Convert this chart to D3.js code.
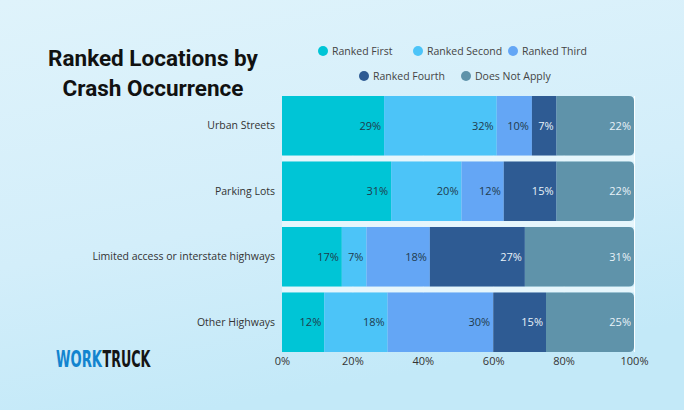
<!DOCTYPE html>
<html>
<head>
<meta charset="utf-8">
<script src="https://cdn.jsdelivr.net/npm/d3@7"></script>
<style>
  body { margin: 0; }
  svg { display: block; }
  text { font-family: "Open Sans", sans-serif; }
</style>
</head>
<body>
<div id="chart"></div>
<script>
const categories = ["Urban Streets", "Parking Lots", "Limited access or interstate highways", "Other Highways"];
const seriesNames = ["Ranked First", "Ranked Second", "Ranked Third", "Ranked Fourth", "Does Not Apply"];
const rankedFirst = [29, 31, 17, 12];
const rankedSecond = [32, 20, 7, 18];
const rankedThird = [10, 12, 18, 30];
const rankedFourth = [7, 15, 27, 15];
const doesNotApply = [22, 22, 31, 25];
const xTicks = [0, 20, 40, 60, 80, 100];

const colors = ["#00c5d6", "#4cc4f8", "#64a6f5", "#2e5b93", "#5f93aa"];
const labelColors = ["#1f3b4d", "#1f3b4d", "#1f3b4d", "#e8f2f8", "#e8f2f8"];

const width = 684, height = 410;

const svg = d3.select("#chart")
  .append("svg")
  .attr("width", width)
  .attr("height", height);

// background
const defs = svg.append("defs");
const grad = defs.append("linearGradient")
  .attr("id", "bg")
  .attr("x1", 0).attr("y1", 0).attr("x2", 0.3).attr("y2", 1);
grad.append("stop").attr("offset", "0%").attr("stop-color", "#dff3fb");
grad.append("stop").attr("offset", "60%").attr("stop-color", "#d3eefa");
grad.append("stop").attr("offset", "100%").attr("stop-color", "#c3e9f8");
svg.append("rect").attr("width", width).attr("height", height).attr("fill", "url(#bg)");

// title
["Ranked Locations by", "Crash Occurrence"].forEach((t, i) => {
  svg.append("text")
    .attr("x", 153).attr("y", 66 + i * 30)
    .attr("text-anchor", "middle")
    .style("font-family", "Roboto, sans-serif")
    .style("font-weight", "bold")
    .style("font-size", "22.5px")
    .attr("fill", "#111")
    .text(t);
});

// stacked data
const table = categories.map((c, i) => ({
  cat: c,
  "Ranked First": rankedFirst[i],
  "Ranked Second": rankedSecond[i],
  "Ranked Third": rankedThird[i],
  "Ranked Fourth": rankedFourth[i],
  "Does Not Apply": doesNotApply[i]
}));
const stacked = d3.stack().keys(seriesNames)(table);

const x = d3.scaleLinear().domain([0, 100]).range([282, 634]);
const y = d3.scaleBand().domain(categories).range([96, 352]).paddingInner(0.09);

// grid
svg.append("g")
  .attr("transform", `translate(0,${y.range()[1]})`)
  .call(d3.axisBottom(x).tickValues(xTicks).tickSize(-(y.range()[1] - y.range()[0])).tickFormat(""))
  .call(g => g.select(".domain").remove())
  .call(g => g.selectAll("line").attr("stroke", "#ffffff").attr("stroke-width", 1).attr("opacity", 0.9));

// gaps between bars (white strips)
svg.append("g")
  .selectAll("rect")
  .data(categories.slice(1))
  .join("rect")
  .attr("x", x(0))
  .attr("y", d => y(d) - y.step() * y.paddingInner())
  .attr("width", x(100) - x(0))
  .attr("height", y.step() * y.paddingInner())
  .attr("fill", "#e6f6fc");

// bars
const r = 5;
function segPath(x0, x1, y0, h, round) {
  if (!round) return `M${x0},${y0}H${x1}V${y0 + h}H${x0}Z`;
  return `M${x0},${y0}H${x1 - r}Q${x1},${y0} ${x1},${y0 + r}V${y0 + h - r}Q${x1},${y0 + h} ${x1 - r},${y0 + h}H${x0}Z`;
}

stacked.forEach((s, si) => {
  const g = svg.append("g");
  g.selectAll("path")
    .data(s)
    .join("path")
    .attr("d", d => segPath(x(d[0]), x(d[1]), y(d.data.cat), y.bandwidth(), si === seriesNames.length - 1))
    .attr("fill", colors[si]);
  g.selectAll("text")
    .data(s)
    .join("text")
    .attr("x", d => x(d[1]) - 3)
    .attr("y", d => y(d.data.cat) + y.bandwidth() / 2)
    .attr("dy", "0.35em")
    .attr("text-anchor", "end")
    .style("font-size", "11px")
    .attr("fill", labelColors[si])
    .text(d => (d[1] - d[0]) + "%");
});

// category axis
svg.append("g")
  .attr("transform", `translate(${x(0)},0)`)
  .call(d3.axisLeft(y).tickSize(0).tickPadding(7))
  .call(g => g.select(".domain").remove())
  .call(g => g.selectAll("text").style("font-size", "10.5px").style("font-family", "Open Sans, sans-serif").attr("fill", "#333"));

// x axis
svg.append("g")
  .attr("transform", `translate(0,${y.range()[1]})`)
  .call(d3.axisBottom(x).tickValues(xTicks).tickSize(0).tickPadding(5).tickFormat(d => d + "%"))
  .call(g => g.select(".domain").remove())
  .call(g => g.selectAll("text").style("font-size", "11px").style("font-family", "Open Sans, sans-serif").attr("fill", "#333"));

// legend
const legendRows = [
  { y: 51, items: [0, 1, 2], xs: [323, 418, 513] },
  { y: 76, items: [3, 4], xs: [364, 466] }
];
legendRows.forEach(row => {
  row.items.forEach((si, k) => {
    const lx = row.xs[k];
    svg.append("circle").attr("cx", lx).attr("cy", row.y).attr("r", 5).attr("fill", colors[si]);
    svg.append("text")
      .attr("x", lx + 9).attr("y", row.y).attr("dy", "0.35em")
      .style("font-size", "10.5px")
      .attr("fill", "#444")
      .text(seriesNames[si]);
  });
});

// logo, squeezed horizontally to look condensed
const logoFont = "'DejaVu Sans Condensed', 'Liberation Sans', sans-serif";
[["WORK", "#1284cf", 56, 46], ["TRUCK", "#151515", 102.5, 48]].forEach(([t, c, lx, lw]) => {
  const g = svg.append("g");
  const txt = g.append("text")
    .attr("x", 0).attr("y", 0)
    .style("font-family", logoFont)
    .style("font-weight", "bold")
    .style("font-size", "23px")
    .attr("fill", c)
    .text(t);
  const w = txt.node().getComputedTextLength();
  g.attr("transform", `translate(${lx},367) scale(${lw / w},1)`);
});
</script>
</body>
</html>
